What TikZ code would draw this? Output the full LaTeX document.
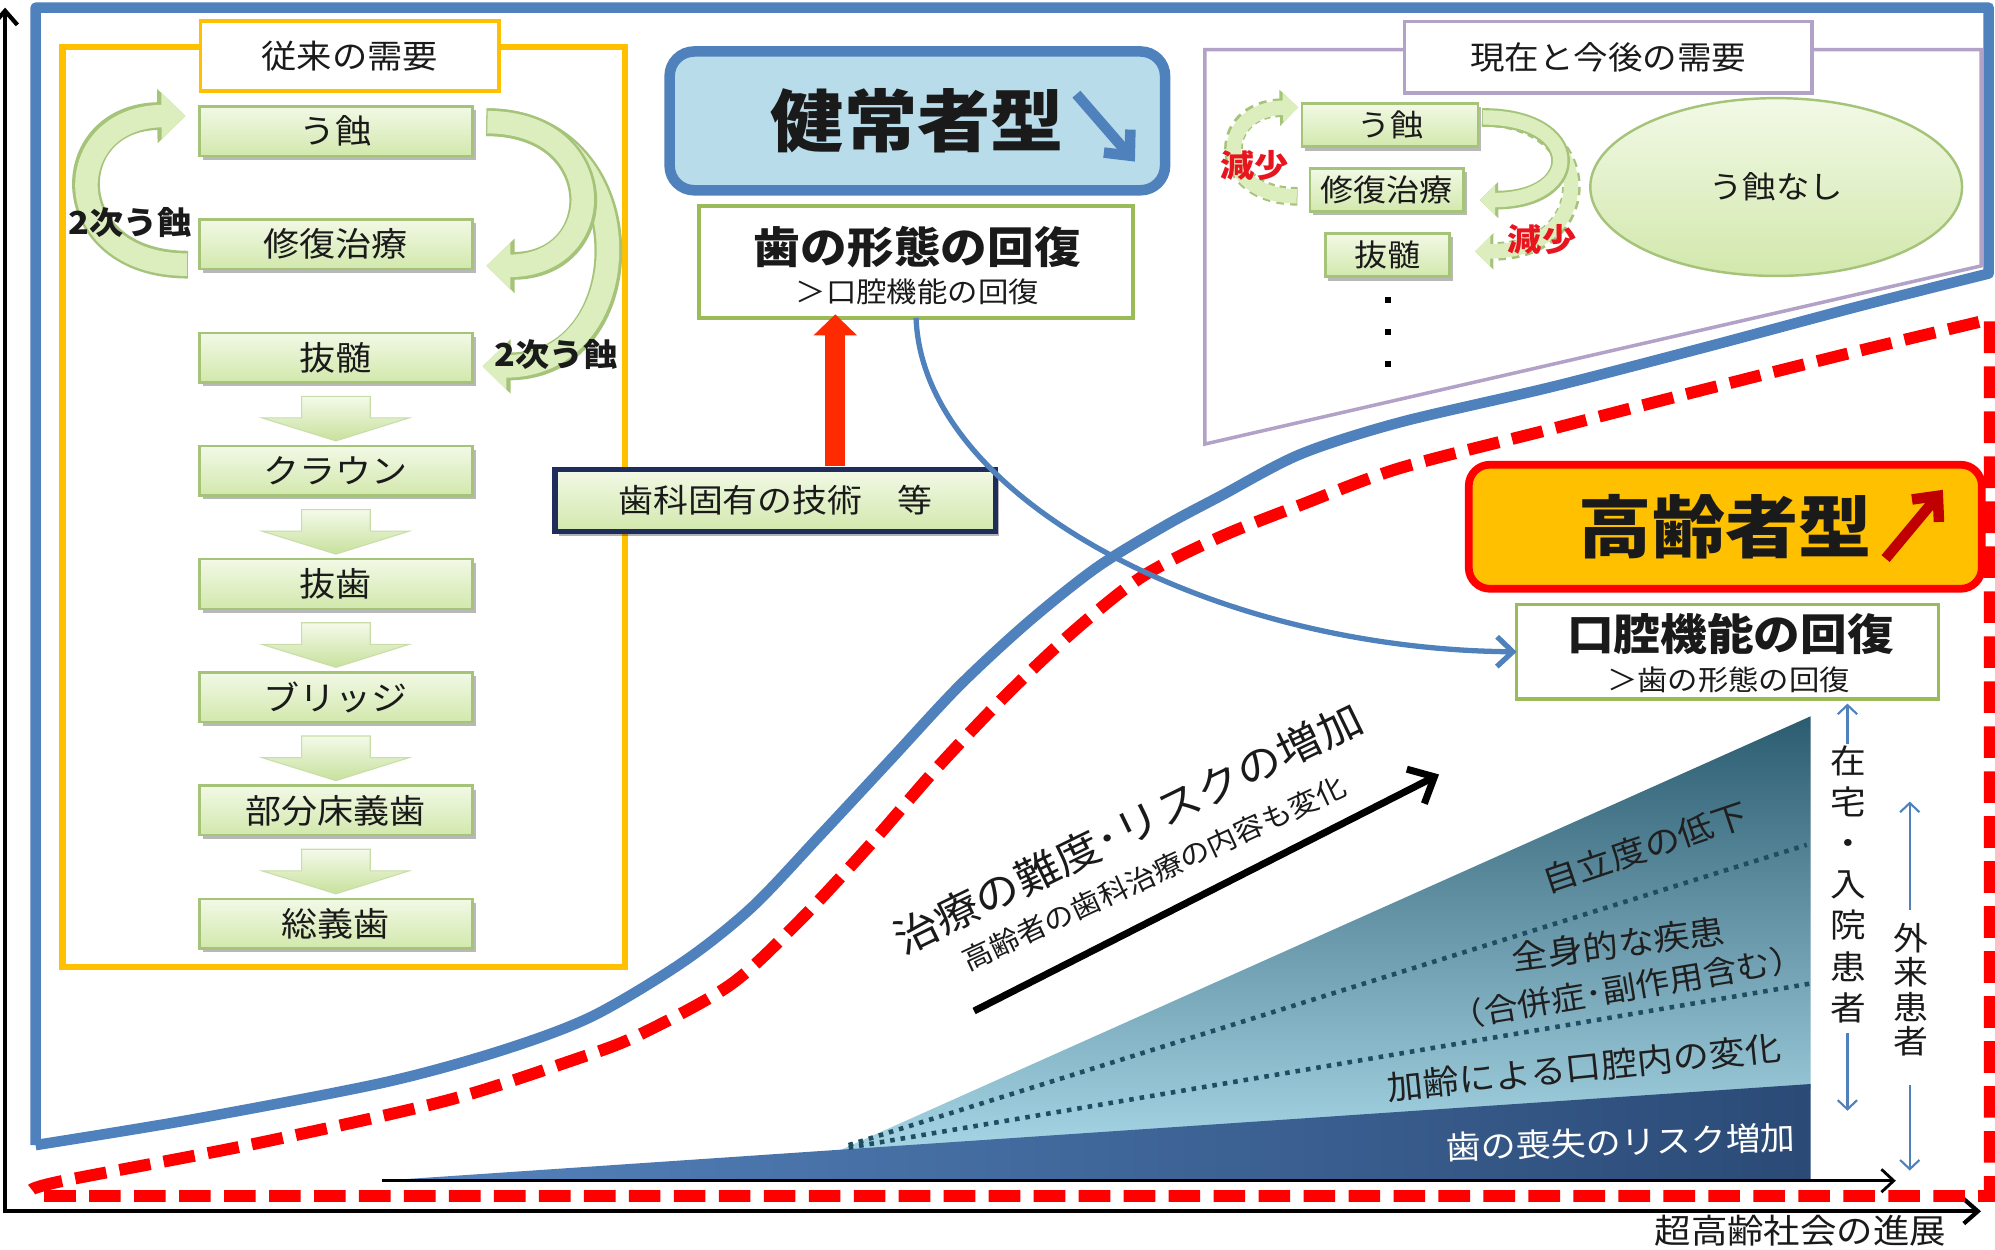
\documentclass[tikz,border=0pt]{standalone}
\usepackage{fontspec}
\setmainfont{Noto Sans CJK JP}[FakeStretch=1.08]
\usetikzlibrary{arrows.meta,shadows,shapes.geometric,calc}
\definecolor{bl}{HTML}{4F81BD}
\definecolor{lbl}{HTML}{B9DCEB}
\definecolor{yel}{HTML}{FFC000}
\definecolor{pur}{HTML}{B3A2C7}
\definecolor{gbd}{HTML}{A5C47A}
\definecolor{gtop}{HTML}{F2F9E6}
\definecolor{gbot}{HTML}{D2E8AC}
\definecolor{cfill}{HTML}{DCEEBE}
\definecolor{atop}{HTML}{F4FAEA}
\definecolor{abot}{HTML}{C8E19C}
\definecolor{abd}{HTML}{C9DDA8}
\definecolor{navy}{HTML}{1F2D5C}
\definecolor{rd}{HTML}{FF0000}
\definecolor{rtxt}{HTML}{E8141E}
\definecolor{rarrow}{HTML}{FF2A00}
\definecolor{dred}{HTML}{C00000}
\definecolor{wtop}{HTML}{2C5C70}
\definecolor{wmid}{HTML}{64A3B9}
\definecolor{wbot}{HTML}{A6D5E5}
\definecolor{bandl}{HTML}{5584BE}
\definecolor{bandr}{HTML}{2B4A76}
\definecolor{dotc}{HTML}{1F4E63}
\definecolor{txt}{HTML}{1A1A1A}
\definecolor{frm}{HTML}{9BBB59}
\newcommand{\fsz}[1]{\fontsize{#1pt}{#1pt}\selectfont}
\begin{document}
\begin{tikzpicture}[x=0.012723cm,y=-0.012723cm,
 every node/.style={inner sep=0pt,outer sep=0pt,text=txt},
 gbox/.style={draw=gbd,line width=0.7pt,top color=gtop,bottom color=gbot,
   drop shadow={shadow xshift=0.9pt,shadow yshift=-1.1pt,opacity=0.28,fill=black}},
 bigbox/.style={gbox,minimum width=77.7pt,minimum height=14.1pt,font=\fsz{9.5}},
 smallbox/.style={gbox,minimum height=12.3pt,font=\fsz{8.7}},
 blk/.style={top color=atop,bottom color=abot,draw=abd,line width=0.3pt},
 cbout/.style={line width=7.9pt,draw=gbd,-{Triangle[length=8pt,width=15pt]}},
 cbin/.style={line width=6.4pt,draw=cfill,-{Triangle[length=6.8pt,width=13pt]}},
 pbout/.style={line width=5.3pt,draw=gbd,-{Triangle[length=5.2pt,width=10pt]}},
 pbin/.style={line width=4.1pt,draw=cfill,-{Triangle[length=4.3pt,width=8.4pt]}},
 pdash/.style={dash pattern=on 2pt off 1.6pt},
 varrow/.style={draw=bl,line width=0.6pt,-{Straight Barb[length=2.6pt,width=5.5pt]}},
 wtext/.style={text=black!88},
]
\useasboundingbox (0,0) rectangle (1568,982);
\fill[white] (0,0) rectangle (1568,982);

% ---------- wedge ----------
\shade[top color=wtop, middle color=wmid, bottom color=wbot] (658,905) -- (1423,563) -- (1423,856) -- cycle;
\shade[left color=bandl, right color=bandr] (300,928) -- (1423,852) -- (1423,928) -- cycle;
\draw[dotc, line width=1.3pt, dash pattern=on 1.3pt off 1.7pt] (667,900) -- (1420,664);
\draw[dotc, line width=1.3pt, dash pattern=on 1.3pt off 1.7pt] (667,902) -- (1423,773);
\node[wtext, rotate=18.6, font=\fsz{9.4}] (w1) at (1293,666) {自立度の低下};
\node[wtext, rotate=7.5, font=\fsz{9.4}] (w2) at (1272,742) {全身的な疾患};
\node[wtext, rotate=9.6, font=\fsz{9}] (w3) at (1279,776) {（合併症･副作用含む）};
\node[wtext, rotate=5.9, font=\fsz{9.5}] (w4) at (1245,839) {加齢による口腔内の変化};
\node[text=white, rotate=1.6, font=\fsz{9.2}] (w5) at (1274,898) {歯の喪失のリスク増加};

% ---------- axes ----------
\coordinate (ax0) at (4,6);
\coordinate (ax1) at (4,952);
\coordinate (ax2) at (1557,952);
\coordinate (as) at (300,928);
\coordinate (ae) at (1490,928);
\draw[line width=0.8pt, -{Straight Barb[length=3.5pt,width=6.5pt]}] (as) -- (ae);
\draw[line width=1.2pt, {Straight Barb[length=4pt,width=7pt]}-{Straight Barb[length=4pt,width=7pt]}] (ax0) -- (ax1) -- (ax2);
\node[font=\fsz{9.6}] (axl) at (1415,967) {超高齢社会の進展};

% ---------- red dashed and blue curves ----------
\draw[rd, line width=3.4pt, dash pattern=on 9pt off 3.8pt]
  plot[smooth, tension=0.5] coordinates {(25,935) (50,928) (200,899) (351,865) (451,833) (501,814) (574,774) (628,724) (682,666) (736,604) (790,547) (844,496) (898,453) (959,422) (1022,397) (1100,368) (1220,337) (1340,306) (1460,276) (1564,251)}
  -- (1564,940) -- (25,940);
\draw[bl, line width=3pt, line join=round] (28,900) -- (28,6) -- (1563,6) --
  plot[smooth, tension=0.5] coordinates {(1563,215) (1460,241) (1340,273) (1220,304) (1100,332) (1022,357) (959,390) (916,413) (862,446) (808,489) (754,539) (700,597) (646,655) (591,713) (537,756) (465,799) (393,826) (301,851) (150,880) (28,900)};

% ---------- left block: traditional demand ----------
\draw[yel, line width=1.8pt] (49,37) rectangle (491,760);
\node[draw=yel, line width=1.1pt, fill=white, minimum width=85pt, minimum height=19.7pt, font=\fsz{9.3}] (jtitle) at (275,44) {従来の需要};

\node[bigbox] (k1) at (264,103) {う蝕};
\node[bigbox] (k2) at (264,192) {修復治療};
\node[bigbox] (k3) at (264,281) {抜髄};
\node[bigbox] (k4) at (264,370) {クラウン};
\node[bigbox] (k5) at (264,459) {抜歯};
\node[bigbox] (k6) at (264,548) {ブリッジ};
\node[bigbox] (k7) at (264,637) {部分床義歯};
\node[bigbox] (k8) at (264,726) {総義歯};

\newcommand{\dblk}[2]{%
  \shade[blk] ($(#1.south)+(-27,11)$) -- ($(#1.south)+(27,11)$) -- ($(#1.south)+(27,28)$) -- ($(#1.south)+(57.5,28)$) -- ($(#2.north)+(0,-4)$) -- ($(#1.south)+(-58,28)$) -- ($(#1.south)+(-27,28)$) -- cycle;}
\dblk{k3}{k4}
\dblk{k4}{k5}
\dblk{k5}{k6}
\dblk{k6}{k7}
\dblk{k7}{k8}

% curved arrows
\draw[cbout] ($(k2.west)+(-9,16)$) .. controls (45,208) and (45,92) .. ($(k1.west)+(-11,-12)$);
\draw[cbin]  ($(k2.west)+(-9.8,16)$) .. controls (45,208) and (45,92) .. ($(k1.west)+(-11,-12)$);
\draw[cbout] ($(k1.east)+(11,-7)$) .. controls (507,96) and (507,288) .. ($(k3.east)+(8,7)$);
\draw[cbin]  ($(k1.east)+(11.8,-7)$) .. controls (507,96) and (507,288) .. ($(k3.east)+(8,7)$);
\draw[cbout] ($(k1.east)+(11,-7)$) .. controls (480,96) and (480,209) .. ($(k2.east)+(11,17)$);
\draw[cbin]  ($(k1.east)+(11.8,-7)$) .. controls (480,96) and (480,209) .. ($(k2.east)+(11,17)$);
\node[font=\bfseries\fsz{9}] (n2a) at (102.5,174.5) {2次う蝕};
\node[font=\bfseries\fsz{9}] (n2b) at (437,279) {2次う蝕};

% ---------- centre: healthy type ----------
\node[draw=bl, line width=3pt, fill=lbl, rounded corners=7pt, minimum width=141pt, minimum height=39.5pt, font=\bfseries\fsz{19.3}] (kenjo) at (721,95) {健常者型};
\coordinate (ka1) at (846,74);
\coordinate (ka2) at (892,127);
\draw[bl, line width=3pt, -{Straight Barb[length=5.5pt,width=10pt]}] (ka1) -- (ka2);

\node[draw=frm, line width=1pt, fill=white, minimum width=123.6pt, minimum height=31.8pt] (form) at (720,206) {};
\node[font=\bfseries\fsz{12.3}] (formt) at (721,194) {歯の形態の回復};
\node[font=\fsz{8}] (forms) at (721,229.5) {＞口腔機能の回復};

\node[draw=navy, line width=1.5pt, top color=gtop, bottom color=gbot,
  drop shadow={shadow xshift=1pt,shadow yshift=-1.2pt,opacity=0.3,fill=black},
  minimum width=125.4pt, minimum height=17.7pt, font=\fsz{9.2}] (gijutsu) at (609.4,393.4) {歯科固有の技術　等};
\coordinate (ra1) at (656.5,366);
\coordinate (ra2) at (656.5,247);
\draw[rarrow, line width=5.8pt, -{Triangle[length=6pt,width=12pt]}] (ra1) -- (ra2);

% ---------- current & future demand ----------
\draw[pur, line width=1pt] (947,39) -- (1557,39) -- (1557,209) -- (947,349) -- cycle;
\node[draw=pur, line width=1pt, fill=white, minimum width=116pt, minimum height=20.3pt, font=\fsz{9.1}] (ptitle) at (1264,45) {現在と今後の需要};

\node[smallbox, minimum width=50.2pt] (p1) at (1092.5,98.3) {う蝕};
\node[smallbox, minimum width=43.6pt] (p2) at (1090,149.3) {修復治療};
\node[smallbox, minimum width=35.4pt] (p3) at (1090.5,200.5) {抜髄};
\foreach \yy in {236,261,286} \fill[black] (1088.5,\yy-2.5) rectangle (1093.5,\yy+2.5);

\draw[pbout,pdash] ($(p2.west)+(-10,5)$) .. controls (955,154) and (955,86) .. ($(p1.west)+(-3,-14)$);
\draw[pbin]  ($(p2.west)+(-10.6,5)$) .. controls (955,154) and (955,86) .. ($(p1.west)+(-3,-14)$);
\draw[pbout,pdash] ($(p1.east)+(3,-6)$) .. controls (1257,92) and (1257,198) .. ($(p3.east)+(20,-3)$);
\draw[pbin]  ($(p1.east)+(3.6,-6)$) .. controls (1257,92) and (1257,198) .. ($(p3.east)+(20,-3)$);
\draw[pbout] ($(p1.east)+(3,-6)$) .. controls (1245,92) and (1245,157) .. ($(p2.east)+(13,8)$);
\draw[pbin]  ($(p1.east)+(3.6,-6)$) .. controls (1245,92) and (1245,157) .. ($(p2.east)+(13,8)$);
\node[text=rtxt, font=\bfseries\fsz{9}] (g1) at (986,130) {減少};
\node[text=rtxt, font=\bfseries\fsz{9}] (g2) at (1212,188) {減少};

\node[ellipse, draw=gbd, line width=0.7pt, top color=gtop, bottom color=gbot, minimum width=105.8pt, minimum height=50.6pt, font=\fsz{8.8}] (nashi) at (1396,147) {う蝕なし};

% ---------- elderly type ----------
\node[draw=rd, line width=2.2pt, fill=yel, rounded corners=6pt, minimum width=146pt, minimum height=35.3pt, font=\bfseries\fsz{19.3}] (koreisha) at (1356,414) {高齢者型};
\coordinate (kr1) at (1482,439);
\coordinate (kr2) at (1527,385);
\draw[dred, line width=3pt, -{Straight Barb[length=5.5pt,width=10pt]}] (kr1) -- (kr2);

\node[draw=frm, line width=1pt, fill=white, minimum width=120pt, minimum height=26.8pt] (kino) at (1357.7,512.3) {};
\node[font=\bfseries\fsz{12.3}] (kinot) at (1360,498) {口腔機能の回復};
\node[font=\fsz{8}] (kinos) at (1358.5,534.4) {＞歯の形態の回復};

\draw[bl, line width=1.5pt, -{Straight Barb[length=4.5pt,width=8.5pt]}] (form.south) .. controls (725,390) and (950,510) .. (kino.west);

% ---------- difficulty arrow ----------
\coordinate (d1) at (765.6,794.6);
\coordinate (d2) at (1131,608.7);
\draw[black, line width=2pt, -{Straight Barb[length=6pt,width=11pt]}] (d1) -- (d2);
\node[rotate=26, font=\fsz{11.8}] (diff1) at (886.5,651) {治療の難度･リスクの増加};
\node[rotate=25, font=\fsz{7.9}] (diff2) at (907,686) {高齢者の歯科治療の内容も変化};

% ---------- patient type arrows ----------
\node[align=center, font=\fontsize{9.4pt}{11.7pt}\selectfont] (zaitaku) at (1453,695) {在\\宅\\・\\入\\院\\患\\者};
\node[align=center, font=\fontsize{9.2pt}{9.8pt}\selectfont] (gairai) at (1502,778) {外\\来\\患\\者};
\coordinate (za) at (1452,585);
\coordinate (zb) at (1452,553);
\coordinate (zc) at (1452,812);
\coordinate (zd) at (1452,873);
\coordinate (ga) at (1501,715);
\coordinate (gb) at (1501,630);
\coordinate (gc) at (1501,853);
\coordinate (gd) at (1501,920);
\draw[varrow] (za) -- (zb);
\draw[varrow] (zc) -- (zd);
\draw[varrow] (ga) -- (gb);
\draw[varrow] (gc) -- (gd);
\end{tikzpicture}
\end{document}
